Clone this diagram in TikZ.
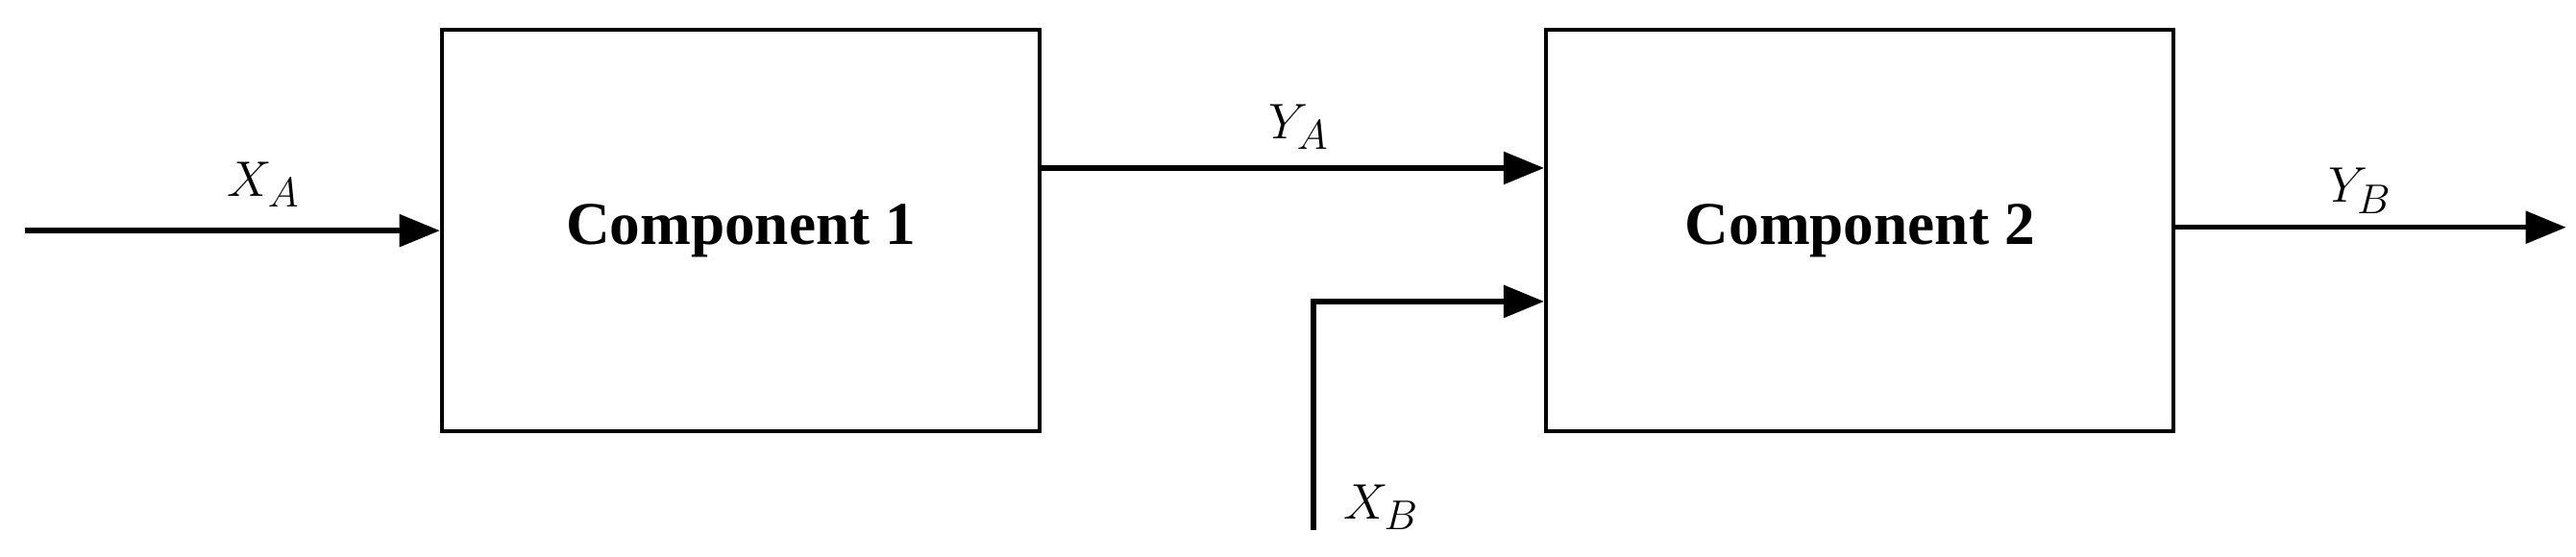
\documentclass[tikz,border=0pt]{standalone}
\usepackage{fontspec}
\setmainfont{Liberation Serif}
\usetikzlibrary{arrows.meta}
\begin{document}
\begin{tikzpicture}[x=0.02cm,y=-0.02cm,
 blk/.style={draw,line width=1.3pt,minimum width=7.26cm,minimum height=4.88cm,font=\fontsize{21}{24}\selectfont\bfseries,inner sep=0},
 conn/.style={line width=1.8pt,-{Triangle[length=14pt,width=11pt]}},
 lbl/.style={font=\fontsize{19}{22}\selectfont}]
\useasboundingbox (0,0) rectangle (1563,338);
\node[blk] (c1) at (449.5,140) {Component 1};
\node[blk,minimum width=7.62cm] (c2) at (1128.5,140) {Component 2};
\coordinate (xa) at (15,140);
\coordinate (xb) at (797,322);
\coordinate (yb) at (1557,138);
\draw[conn] (xa) -- (c1.west|-xa);
\draw[conn] (c1.east|-0,102) -- (c2.west|-0,102);
\draw[conn] (xb) -- (797,183) -- (c2.west|-0,183);
\draw[conn] (c2.east|-yb) -- (yb);
\node[lbl] (lxa) at (160,112) {$X_A$};
\node[lbl] (lya) at (788,77) {$Y_A$};
\node[lbl] (lxb) at (838,308) {$X_B$};
\node[lbl] (lyb) at (1432,116) {$Y_B$};
\end{tikzpicture}
\end{document}
